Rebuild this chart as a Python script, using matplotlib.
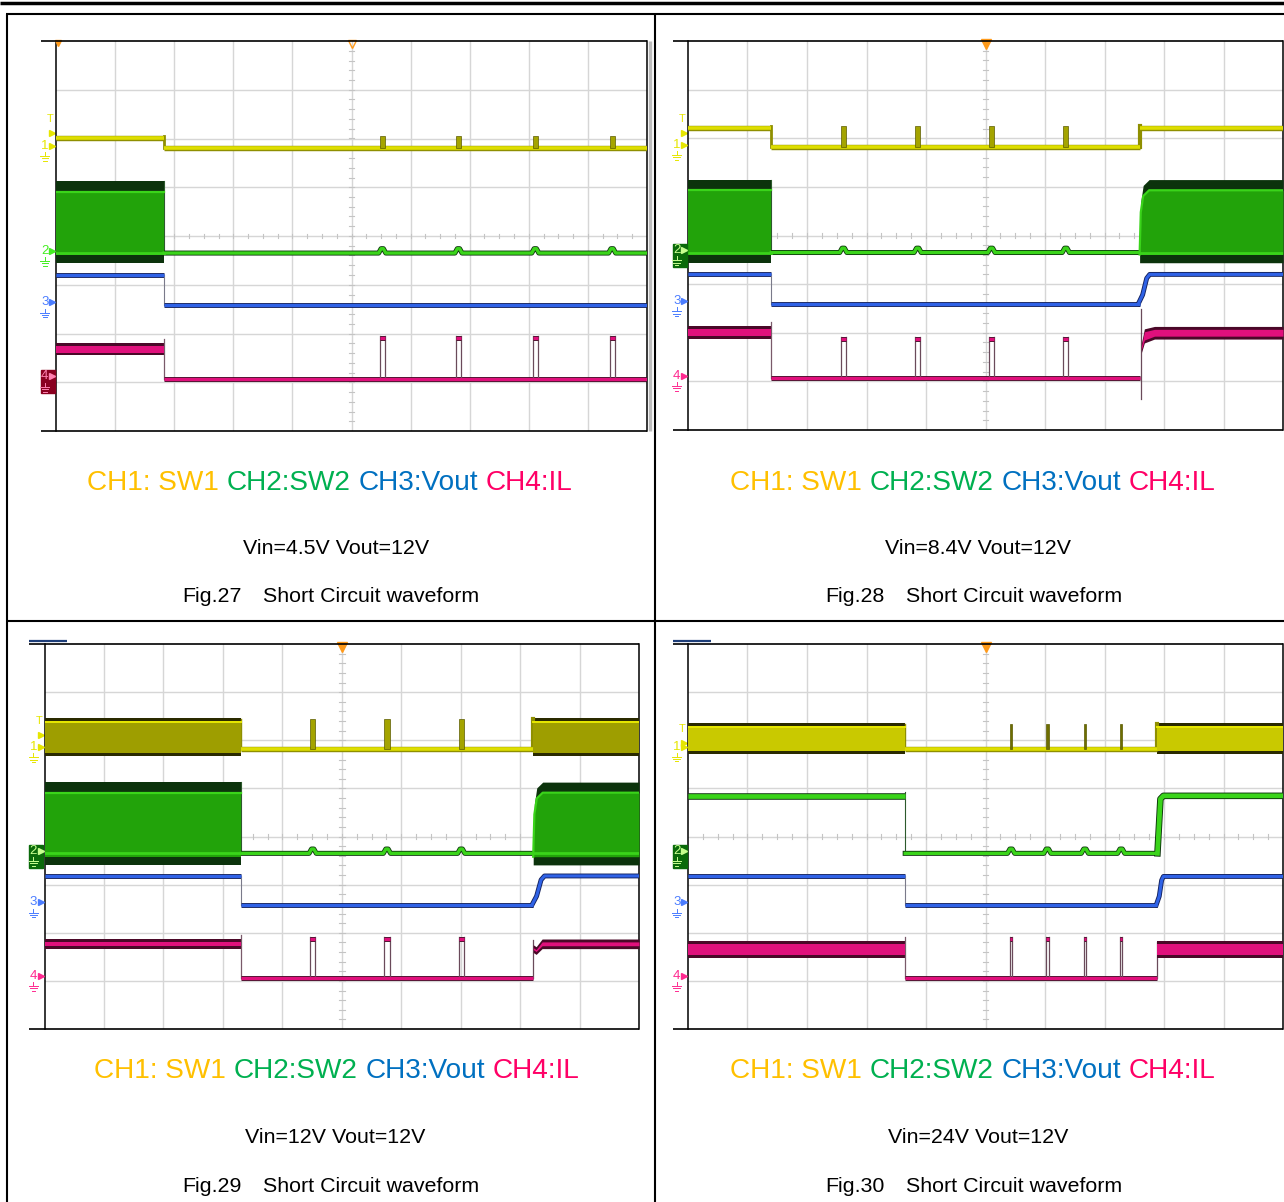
import numpy as np
import matplotlib.pyplot as plt
from matplotlib.lines import Line2D
from matplotlib.patches import Rectangle

# ---- data (units: screen divisions) ----
fig_numbers = [27, 28, 29, 30]
vin_values = ["4.5V", "8.4V", "12V", "24V"]
vout_value = "12V"
channel_names = ["CH1: SW1", "CH2:SW2", "CH3:Vout", "CH4:IL"]
channel_colors = ["#ffc000", "#00b050", "#0070c0", "#ff0066"]

# time of short / release, x in divisions (0..10)
short_start = [1.83, 1.40, 3.31, 3.65]
short_end = [10.0, 7.59, 8.22, 7.89]
hiccup_times = [[5.52, 6.81, 8.11, 9.41],
                [2.61, 3.86, 5.10, 6.35],
                [4.51, 5.76, 7.01],
                [5.43, 6.04, 6.67, 7.28]]
hiccup_width = [0.085, 0.08, 0.085, 0.04]

# levels, y in divisions above the bottom of the screen (0..8)
ch1_run = [(5.98, 6.06), (6.17, 6.25), (5.71, 6.44), (5.75, 6.33)]
ch1_short = [5.80, 5.82, 5.81, 5.82]
ch2_run = [(3.44, 5.13), (3.44, 5.15), (3.41, 5.13), (4.76, 4.93)]
ch2_short = [3.65, 3.65, 3.65, 3.65]
ch3_run = [3.20, 3.20, 3.18, 3.17]
ch3_short = [2.59, 2.60, 2.58, 2.58]
ch3_rise = [0.0, 0.17, 0.19, 0.10]
ch4_run = [(1.58, 1.77), (1.90, 2.10), (1.70, 1.84), (1.51, 1.80)]
ch4_short = [1.07, 1.07, 1.06, 1.06]
ch4_peak = [1.94, 1.92, 1.91, 1.92]
trig_level = [6.11, 6.11, 6.11, 5.95]

# ---- layout (pixels) ----
W, H = 1284, 1202
screens = [(56, 41, 647, 431), (688, 41, 1283, 430),
           (44.6, 644, 639, 1029), (688, 644, 1283, 1029)]
frame_left = [41, 673, 29, 673]
ch_cx = [330, 973, 337, 973]
vin_cx = [336, 978, 335.5, 978]
fig_x = [182, 825, 182, 825]
short_x = [263, 906, 263, 906]
row_base = [[489.5, 554, 602.5], [1078.5, 1143, 1191.5]]

YEL, YEL_D = "#dede00", "#8f8f00"
GRN, GRN_D, GRN_F = "#3ad41a", "#0c330c", "#22a30a"
BLU, BLU_D = "#2f62e6", "#14225e"
PNK, PNK_D = "#e0107c", "#4a0828"
GRID = "#d6d6d6"

fig = plt.figure(figsize=(W / 100, H / 100), dpi=100)
fig.patch.set_facecolor("white")


def fx(x):
    return x / W


def fy(y):
    return 1 - y / H


def fig_line(x0, y0, x1, y1, lw, color="black"):
    fig.add_artist(Line2D([fx(x0), fx(x1)], [fy(y0), fy(y1)], transform=fig.transFigure,
                          lw=lw, color=color, solid_capstyle="butt"))


def hrun(ax, xa, xb, y, color, dark, lw, z):
    ax.plot([xa, xb], [y, y], color=dark, lw=lw + 1.3, solid_capstyle="butt", zorder=z)
    ax.plot([xa, xb], [y, y], color=color, lw=lw, solid_capstyle="butt", zorder=z + 0.1)


def vedge(ax, x, ya, yb, color, lw, z):
    ax.plot([x, x], [ya, yb], color=color, lw=lw, zorder=z)


def band(ax, xs, lo, hi, color, dark, z, edge=0.04):
    lo = np.broadcast_to(lo, len(xs))
    hi = np.broadcast_to(hi, len(xs))
    ax.fill_between(xs, lo - edge, hi + edge, color=dark, lw=0, zorder=z)
    ax.fill_between(xs, lo + edge, hi - edge, color=color, lw=0, zorder=z + 0.1)


def sw_band(ax, xs, lo, top, s2, z):
    # switching node: dark noisy envelope, green body, bright top and low lines
    top = np.asarray(top, dtype=float)
    inner_top = np.maximum(top - 0.22, lo + 0.17)
    ax.fill_between(xs, lo, top, color=GRN_D, lw=0, zorder=z)
    ax.fill_between(xs, lo + 0.17, inner_top, color=GRN_F, lw=0, zorder=z + 0.1)
    ax.plot(xs, inner_top, color=GRN, lw=1.6, zorder=z + 0.2)
    ax.plot([xs[0], xs[-1]], [s2, s2], color=GRN, lw=2.0, zorder=z + 0.2)


def marker(ax, y, label, color, box=None, mark_t=False, ty=None):
    if box:
        ax.add_patch(Rectangle((-0.26, y - 0.3), 0.24, 0.48, fc=box, ec=box,
                               clip_on=False, zorder=19))
    ax.text(-0.19, y + 0.05, label, color=color, fontsize=9.5, family="Liberation Sans",
            ha="center", va="center", clip_on=False, zorder=20)
    ax.plot([-0.06], [y + 0.05], marker=">", ms=4.5, color=color, mec=color,
            clip_on=False, zorder=21)
    ax.plot([-0.19, -0.19], [y - 0.08, y - 0.16], color=color, lw=0.7, clip_on=False, zorder=21)
    for k, hw in enumerate([0.08, 0.055, 0.03]):
        yy = y - 0.16 - 0.05 * k
        ax.plot([-0.19 - hw, -0.19 + hw], [yy, yy], color=color, lw=0.7, clip_on=False, zorder=21)
    if mark_t:
        ax.text(-0.1, ty + 0.28, "T", color=color, fontsize=8, family="Liberation Sans",
                ha="center", va="center", clip_on=False)
        ax.plot([-0.06], [ty], marker=">", ms=5, color=color, clip_on=False)


for i in range(4):
    x0, y0, x1, y1 = screens[i]
    ax = fig.add_axes([fx(x0), fy(y1), (x1 - x0) / W, (y1 - y0) / H])
    ax.set_xlim(0, 10)
    ax.set_ylim(0, 8)
    ax.set_xticks([])
    ax.set_yticks([])
    for side in ["top", "bottom"]:
        ax.spines[side].set_visible(False)
    ax.spines["left"].set_linewidth(1.1)
    ax.spines["right"].set_linewidth(1.1)

    # graticule
    for gx in range(1, 10):
        ax.axvline(gx, color=GRID, lw=1.0, zorder=0)
    for gy in range(1, 8):
        ax.axhline(gy, color=GRID, lw=1.0, zorder=0)
    for ty_ in np.arange(0.2, 8, 0.2):
        ax.plot([4.95, 5.05], [ty_, ty_], color="#c4c4c4", lw=0.8, zorder=0)
    for tx_ in np.arange(0.25, 10, 0.25):
        ax.plot([tx_, tx_], [3.95, 4.05], color="#c4c4c4", lw=0.8, zorder=0)

    t0, t1 = short_start[i], short_end[i]
    pulses = hiccup_times[i]
    w = hiccup_width[i]
    runs = [(0, t0)] + ([(t1, 10)] if t1 < 10 else [])

    # ---- CH1 ----
    lo, hi = ch1_run[i]
    s1 = ch1_short[i]
    for xa, xb in runs:
        if hi - lo < 0.15:
            hrun(ax, xa, xb, (lo + hi) / 2, YEL, YEL_D, 2.6, 3)
        else:
            fill = "#9e9e00" if i == 2 else "#c9c900"
            band(ax, [xa, xb], lo, hi, fill, "#2a2a00", 3, edge=0.03)
            ax.plot([xa, xb], [hi - 0.06, hi - 0.06], color="#e8e800", lw=1.4, zorder=3.2)
    hrun(ax, t0, t1, s1, YEL, YEL_D, 2.6, 3)
    vedge(ax, t0, s1, hi, YEL_D, 2.0 if hi - lo < 0.15 else 1.0, 3)
    if t1 < 10:
        vedge(ax, t1, s1, hi, YEL_D, 3.0, 3)
    ax.bar(pulses, hi - s1, width=w, bottom=s1, color="#a4a400" if w > 0.05 else "#6e6e00",
           edgecolor="#5a5a00", lw=0.5, zorder=3.3)

    # ---- CH2 ----
    lo, hi = ch2_run[i]
    s2 = ch2_short[i]
    wide = hi - lo > 0.5
    if wide:
        sw_band(ax, [0, t0], lo, [hi, hi], s2, 4)
    else:
        hrun(ax, 0, t0, (lo + hi) / 2, GRN, GRN_D, 3.4, 4)
    vedge(ax, t0, s2, hi, "#2d5a2d", 0.8, 4)
    xs, ys = [t0], [s2]
    for p in pulses:
        xs += [p - 0.06, p - 0.02, p + 0.02, p + 0.06]
        ys += [s2, s2 + 0.09, s2 + 0.09, s2]
    xs.append(t1)
    ys.append(s2)
    ax.plot(xs, ys, color=GRN_D, lw=3.6, zorder=4, solid_joinstyle="round")
    ax.plot(xs, ys, color=GRN, lw=2.4, zorder=4.1, solid_joinstyle="round")
    if t1 < 10:
        if wide:
            kx = [t1, t1 + 0.02, t1 + 0.06, t1 + 0.16, 10]
            top = [s2, hi - 0.45, hi - 0.12, hi, hi]
            sw_band(ax, kx, lo, top, s2, 4)
        else:
            kx = [t1, t1 + 0.05, t1 + 0.1, 10]
            ky = [s2, hi - 0.15, (lo + hi) / 2, (lo + hi) / 2]
            ax.plot(kx, ky, color=GRN_D, lw=4.7, zorder=4)
            ax.plot(kx, ky, color=GRN, lw=3.4, zorder=4.1)

    # ---- CH3 ----
    r3, s3 = ch3_run[i], ch3_short[i]
    hrun(ax, 0, t0, r3, BLU, BLU_D, 2.2, 5)
    vedge(ax, t0, s3, r3, "#7a7a8a", 0.8, 5)
    hrun(ax, t0, t1, s3, BLU, BLU_D, 2.2, 5)
    if t1 < 10:
        rr = ch3_rise[i]
        kx = [t1 - 0.02, t1 + 0.3 * rr, t1 + 0.7 * rr, t1 + rr, 10]
        ky = [s3, s3 + 0.3 * (r3 - s3), r3 - 0.08, r3, r3]
        ax.plot(kx, ky, color=BLU_D, lw=3.5, zorder=5)
        ax.plot(kx, ky, color=BLU, lw=2.2, zorder=5.1)

    # ---- CH4 ----
    lo, hi = ch4_run[i]
    s4, pk = ch4_short[i], ch4_peak[i]
    band(ax, [0, t0], lo, hi, PNK, PNK_D, 6, edge=0.03)
    vedge(ax, t0, s4, hi + 0.12, "#7a5a6a", 0.9, 6)
    hrun(ax, t0, t1, s4, PNK, PNK_D, 2.2, 6)
    for p in pulses:
        vedge(ax, p - w / 2, s4, pk, "#6a4a5a", 0.9, 6)
        vedge(ax, p + w / 2, s4, pk, "#6a4a5a", 0.9, 6)
        hrun(ax, p - w / 2, p + w / 2, pk - 0.04, PNK, PNK_D, 2.2, 6)
    if t1 < 10:
        if i == 1:
            vedge(ax, t1 + 0.02, 0.63, 2.48, "#6a4a5a", 0.9, 6)
            kx = [t1 + 0.03, t1 + 0.08, t1 + 0.25, 10]
            band(ax, kx, [1.62, 1.82, lo, lo], [1.75, hi - 0.05, hi, hi], PNK, PNK_D, 6, edge=0.03)
        elif i == 2:
            vedge(ax, t1, s4, hi, "#6a4a5a", 0.9, 6)
            kx = [t1, t1 + 0.05, t1 + 0.15, 10]
            band(ax, kx, [1.62, 1.58, lo, lo], [1.72, 1.68, hi, hi], PNK, PNK_D, 6, edge=0.03)
        else:
            vedge(ax, t1, s4, hi, "#6a4a5a", 0.9, 6)
            band(ax, [t1, 10], lo, hi, PNK, PNK_D, 6, edge=0.03)

    # ---- channel reference markers ----
    marker(ax, s1, "1", "#e6e600", mark_t=True, ty=trig_level[i])
    marker(ax, s2, "2", "#c8ff90" if i else "#44ee22", box="#0a6a0a" if i else None)
    marker(ax, s3, "3", "#4a7cff")
    marker(ax, s4, "4", "#ff80b0" if i == 0 else "#ff2a90", box="#8a0020" if i == 0 else None)
    if i == 0:
        ax.plot([5], [7.94], marker="v", ms=6, mfc="none", mec="#ff9a1a", mew=1.0, clip_on=False, zorder=20)
        ax.plot([0.03], [7.96], marker="v", ms=4, color="#ff9a1a", clip_on=False, zorder=20)
    else:
        ax.plot([5], [7.94], marker="v", ms=6.5, color="#ff9a1a", clip_on=False, zorder=20)

    # frame lines extending left of the screen
    fig_line(frame_left[i], y0, x1, y0, 1.2)
    fig_line(frame_left[i], y1, x1, y1, 1.2)
    if i == 0:
        fig_line(650, y0, 650, y1, 2.4, "#bdbdbd")
    if i >= 2:
        fig_line(frame_left[i], 640.7, frame_left[i] + 38, 640.7, 1.6, "#1d3d78")

# ---- table rules ----
fig_line(0, 2.7, W, 2.7, 2.5)
fig_line(6, 14.3, W, 14.3, 1.5)
fig_line(7.3, 13.5, 7.3, H, 1.5)
fig_line(654.8, 13.5, 654.8, H, 1.5)
fig_line(6, 621, W, 621, 1.5)

# ---- captions ----
renderer = fig.canvas.get_renderer()
FONT = "Liberation Sans"


def colored_caption(cx, base_y, parts, colors, size):
    texts = [fig.text(0, fy(base_y), p, color=c, fontsize=size, family=FONT,
                      ha="left", va="baseline") for p, c in zip(parts, colors)]
    widths = [t.get_window_extent(renderer).width for t in texts]
    space = size * 100 / 72 * 0.278
    x = cx - (sum(widths) + space * (len(parts) - 1)) / 2
    for t, wd in zip(texts, widths):
        t.set_x(fx(x))
        x += wd + space


for i in range(4):
    bases = row_base[i // 2]
    colored_caption(ch_cx[i], bases[0], channel_names, channel_colors, 20.2)
    fig.text(fx(vin_cx[i]), fy(bases[1]), f"Vin={vin_values[i]} Vout={vout_value}",
             fontsize=15.4, family=FONT, ha="center", va="baseline")
    fig.text(fx(fig_x[i]), fy(bases[2]), f"Fig.{fig_numbers[i]}",
             fontsize=15.4, family=FONT, ha="left", va="baseline")
    fig.text(fx(short_x[i]), fy(bases[2]), "Short Circuit waveform",
             fontsize=15.4, family=FONT, ha="left", va="baseline")

fig.savefig("out.png", dpi=100, facecolor="white")
